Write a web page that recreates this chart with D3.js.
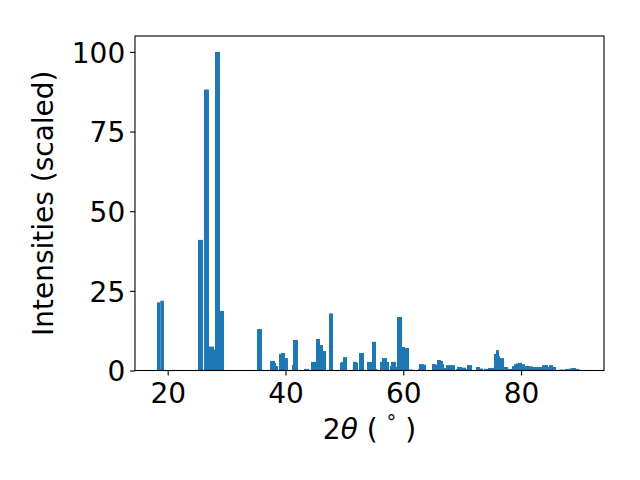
<!DOCTYPE html>
<html>
<head>
<meta charset="utf-8">
<script src="https://cdn.jsdelivr.net/npm/d3@7"></script>
<style>
  html, body { margin: 0; padding: 0; background: #fff; }
  svg { display: block; }
  text { font-family: "DejaVu Sans", sans-serif; fill: #000; }
</style>
</head>
<body>
<svg id="chart" width="640" height="480"></svg>
<script>
// 2θ bin edges (degrees) and scaled intensities
const binLo = [18.18, 18.74, 25.14, 26.16, 27.01, 27.86, 28.03, 28.88,
  35.16, 37.37, 38.22, 38.39, 38.90, 39.24, 39.92, 41.10, 41.27, 43.14,
  44.33, 45.18, 45.86, 46.37, 47.39, 49.26, 49.43, 49.77, 51.46, 52.14,
  52.48, 53.33, 53.84, 54.69, 55.37, 55.54, 56.05, 56.39, 57.24, 57.74,
  57.91, 58.76, 58.93, 59.78, 60.29, 60.97, 62.50, 62.67, 63.52, 64.87,
  65.55, 65.72, 66.40, 66.74, 66.91, 67.25, 68.95, 69.12, 69.97, 70.65,
  70.82, 72.34, 73.02, 73.70, 74.38, 75.40, 75.74, 76.25, 76.42, 77.10,
  77.78, 78.46, 78.80, 79.14, 79.48, 80.16, 80.67, 81.52, 82.03, 82.54,
  83.56, 83.90, 84.58, 84.75, 85.43, 86.45, 87.47, 88.15, 88.49, 89.34,
  89.85];
const binHi = [18.74, 19.37, 25.99, 27.01, 27.86, 28.03, 28.88, 29.56,
  36.01, 38.22, 38.39, 38.73, 39.24, 39.92, 40.42, 41.27, 42.12, 43.99,
  45.18, 45.86, 46.37, 46.88, 48.07, 49.43, 49.77, 50.45, 52.14, 52.31,
  53.33, 53.67, 54.69, 55.37, 55.54, 55.88, 56.39, 57.24, 57.58, 57.91,
  58.76, 58.93, 59.78, 60.29, 60.97, 61.65, 62.67, 63.52, 63.86, 65.55,
  65.72, 66.40, 66.74, 66.91, 67.25, 68.78, 69.12, 69.97, 70.65, 70.82,
  71.66, 73.02, 73.53, 74.38, 75.40, 75.74, 76.25, 76.42, 77.10, 77.78,
  78.46, 78.80, 79.14, 79.48, 80.16, 80.67, 81.52, 82.03, 82.54, 83.56,
  83.90, 84.58, 84.75, 85.43, 85.94, 87.30, 88.15, 88.49, 89.34, 89.85,
  90.19];
const intensity = [21.4, 21.9, 41.0, 88.2, 7.5, 6.6, 100, 18.7,
  13.0, 3.0, 2.4, 1.4, 5.2, 5.5, 3.9, 1.7, 9.6, 0.5,
  2.7, 9.9, 8.0, 6.1, 17.9, 2.4, 2.7, 4.2, 2.7, 2.4,
  5.5, 0.2, 2.7, 9.0, 0.5, 0.2, 2.7, 3.9, 2.7, 1.4,
  2.7, 1.1, 16.8, 7.4, 7.1, 0.3, 0.5, 2.0, 1.8, 2.0,
  1.8, 3.3, 3.0, 2.0, 0.8, 1.7, 0.5, 1.1, 0.9, 0.5,
  1.7, 1.1, 0.6, 0.5, 0.8, 5.2, 6.4, 4.5, 3.9, 1.1,
  0.5, 1.4, 2.0, 2.2, 2.4, 2.0, 1.4, 1.3, 1.1, 1.1,
  1.7, 1.7, 1.1, 1.7, 1.1, 0.3, 0.5, 0.6, 0.8, 0.5,
  0.2];
const xTicks = [20, 40, 60, 80];
const yTicks = [0, 25, 50, 75, 100];
const xLimits = [14.45, 94.08];
const yLimits = [0, 105];

const bars = binLo.map((lo, i) => ({ lo, hi: binHi[i], v: intensity[i] }));

const L = 135, R = 604, T = 36, B = 370.5;
const svg = d3.select("#chart");
const x = d3.scaleLinear().domain(xLimits).range([L, R]);
const y = d3.scaleLinear().domain(yLimits).range([B, T]);

svg.append("g").selectAll("rect").data(bars).join("rect")
  .attr("x", d => x(d.lo))
  .attr("width", d => x(d.hi) - x(d.lo))
  .attr("y", d => y(d.v))
  .attr("height", d => y(0) - y(d.v))
  .attr("fill", "#1f77b4");

// frame
svg.append("rect")
  .attr("x", L).attr("y", T).attr("width", R - L).attr("height", B - T)
  .attr("fill", "none").attr("stroke", "#000").attr("stroke-width", 1.1);

const fs = 28;
const xa = svg.append("g").attr("transform", `translate(0,${B})`)
  .call(d3.axisBottom(x).tickValues(xTicks).tickFormat(d3.format("d"))
    .tickSize(4.9).tickPadding(7.7));
xa.select(".domain").remove();
xa.selectAll("line").attr("stroke", "#000").attr("stroke-width", 1.1);
xa.selectAll("text").attr("font-size", fs).attr("font-family", "DejaVu Sans").attr("fill", "#000");

const ya = svg.append("g").attr("transform", `translate(${L},0)`)
  .call(d3.axisLeft(y).tickValues(yTicks).tickFormat(d3.format("d"))
    .tickSize(4.9).tickPadding(4.9));
ya.select(".domain").remove();
ya.selectAll("line").attr("stroke", "#000").attr("stroke-width", 1.1);
ya.selectAll("text").attr("font-size", fs).attr("font-family", "DejaVu Sans").attr("fill", "#000")
  .attr("dy", "0.364em");

// x label: 2θ (°)
const xl = svg.append("text")
  .attr("x", (L + R) / 2).attr("y", 439)
  .attr("text-anchor", "middle").attr("font-size", fs);
xl.append("tspan").text("2");
xl.append("tspan").attr("font-style", "italic").text("θ");
xl.append("tspan").text(" ( ");
xl.append("tspan").attr("font-size", fs * 0.7).attr("dy", -10).text("°");
xl.append("tspan").attr("dy", 10).text(" )");

// y label
svg.append("text")
  .attr("transform", `translate(53,${(T + B) / 2}) rotate(-90)`)
  .attr("text-anchor", "middle").attr("font-size", fs)
  .text("Intensities (scaled)");
</script>
</body>
</html>
